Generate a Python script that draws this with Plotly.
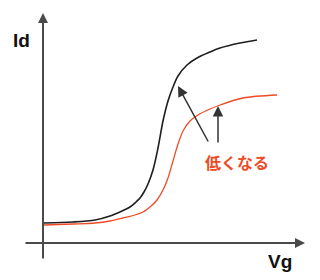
import plotly.graph_objects as go

# Data (Vg, Id in arbitrary units)
vg_black = [1, 30, 52, 67, 79, 87, 93, 97, 101, 105, 110, 115, 120, 125, 130, 135, 144, 154, 167, 177, 197, 214]
id_black = [20, 21, 23, 27, 32, 36, 41, 45, 51, 59, 73, 95, 122, 142, 156, 167, 178, 185, 191, 195, 200, 203]
vg_red = [1, 30, 52, 67, 80, 92, 100, 107, 114, 120, 125, 130, 135, 140, 147, 155, 167, 177, 200, 234]
id_red = [18, 19, 20, 22, 25, 28, 31, 36, 43, 53, 65, 82, 99, 112, 122, 128, 134, 138, 145, 148]

x_label = "Vg"
y_label = "Id"
note_text = "低くなる"

RED = "#ee4b26"
AX = "#4a4a4a"

fig = go.Figure()
fig.add_trace(go.Scatter(x=vg_black, y=id_black, mode="lines",
                         line=dict(color="#1e1e1e", width=1.6, shape="spline", smoothing=0.9),
                         hoverinfo="skip"))
fig.add_trace(go.Scatter(x=vg_red, y=id_red, mode="lines",
                         line=dict(color=RED, width=1.3, shape="spline", smoothing=0.9),
                         hoverinfo="skip"))

ann = []
# axes as arrows
ann.append(dict(x=0, y=230, ax=0, ay=-17, xref="x", yref="y", axref="x", ayref="y",
                text="", showarrow=True, arrowhead=2, arrowsize=1, arrowwidth=2, arrowcolor=AX))
ann.append(dict(x=262, y=0, ax=-19, ay=0, xref="x", yref="y", axref="x", ayref="y",
                text="", showarrow=True, arrowhead=2, arrowsize=1, arrowwidth=2, arrowcolor=AX))
# pointer arrows
ann.append(dict(x=135, y=157, ax=166, ay=100, xref="x", yref="y", axref="x", ayref="y",
                text="", showarrow=True, arrowhead=2, arrowsize=1.4, arrowwidth=1.5, arrowcolor="#333333"))
ann.append(dict(x=175, y=137, ax=175, ay=99, xref="x", yref="y", axref="x", ayref="y",
                text="", showarrow=True, arrowhead=2, arrowsize=1.4, arrowwidth=1.5, arrowcolor="#333333"))
# labels
ann.append(dict(x=-22, y=203, xref="x", yref="y", text="<b>%s</b>" % y_label, showarrow=False,
                font=dict(family="Liberation Sans, Arial", size=19, color="#111111")))
ann.append(dict(x=237, y=-18, xref="x", yref="y", text="<b>%s</b>" % x_label, showarrow=False,
                font=dict(family="Liberation Sans, Arial", size=19, color="#111111")))
ann.append(dict(x=194, y=81, xref="x", yref="y", text="<b>%s</b>" % note_text, showarrow=False,
                font=dict(family="Noto Sans CJK JP", size=16, color=RED)))

fig.update_layout(
    width=320, height=280,
    margin=dict(l=0, r=0, t=0, b=0),
    paper_bgcolor="white", plot_bgcolor="white",
    showlegend=False,
    xaxis=dict(range=[-43, 277], visible=False, fixedrange=True),
    yaxis=dict(range=[-37, 243], visible=False, fixedrange=True),
    annotations=ann,
)

fig.write_html("out.html", config={"displayModeBar": False})
